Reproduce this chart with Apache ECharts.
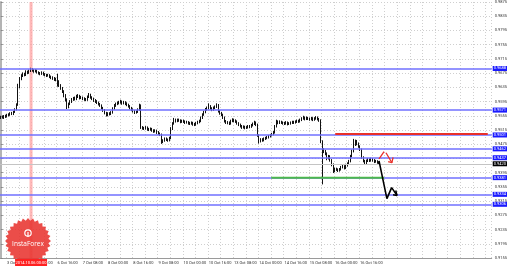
<!DOCTYPE html>
<html><head><meta charset="utf-8">
<script src="https://cdn.jsdelivr.net/npm/echarts@6/dist/echarts.min.js"></script>
<style>html,body{margin:0;padding:0;background:#fff}#c{width:510px;height:268px}</style>
</head><body><div id="c"></div>
<script>
// ---- time axis: H1 bars from 3 Oct 2014 04:00, weekends skipped ----
const startTime = Date.UTC(2014, 9, 3, 4);
const barCount = 312;
const lastLabelIndex = 228;   // last time label shown (16 Oct 16:00)
const monthNames = ['Jan','Feb','Mar','Apr','May','Jun','Jul','Aug','Sep','Oct','Nov','Dec'];

// ---- price axis ticks ----
const yMin = 0.9155, yMax = 0.9875, yStep = 0.004;

// ---- OHLC values (H1) ----
const opens = [
.9550,.9552,.9550,.9554,.9553,.9557,.9558,.9562,.9560,.9566,
.9572,.9586,.9637,.9660,.9668,.9673,.9670,.9679,.9676,.9681,
.9686,.9683,.9680,.9682,.9677,.9675,.9673,.9676,.9671,.9670,
.9668,.9669,.9665,.9662,.9660,.9656,.9658,.9651,.9640,.9632,
.9623,.9612,.9600,.9580,.9588,.9595,.9600,.9604,.9602,.9609,
.9611,.9605,.9606,.9603,.9601,.9600,.9608,.9614,.9607,.9603,
.9598,.9595,.9592,.9588,.9584,.9577,.9570,.9563,.9558,.9561,
.9560,.9564,.9575,.9584,.9588,.9590,.9592,.9595,.9590,.9593,
.9589,.9586,.9582,.9577,.9572,.9568,.9564,.9566,.9572,.9584,
.9522,.9520,.9519,.9522,.9517,.9516,.9518,.9514,.9511,.9513,
.9508,.9505,.9502,.9481,.9485,.9490,.9488,.9486,.9492,.9519,
.9533,.9544,.9540,.9543,.9542,.9538,.9540,.9539,.9536,.9537,
.9534,.9533,.9535,.9531,.9530,.9534,.9537,.9540,.9549,.9558,
.9565,.9572,.9576,.9582,.9576,.9572,.9577,.9580,.9585,.9568,
.9562,.9558,.9550,.9540,.9536,.9535,.9533,.9540,.9544,.9541,
.9539,.9534,.9530,.9526,.9522,.9524,.9521,.9522,.9525,.9524,
.9528,.9532,.9536,.9530,.9500,.9483,.9488,.9486,.9490,.9492,
.9494,.9497,.9500,.9503,.9508,.9525,.9539,.9535,.9538,.9536,
.9534,.9533,.9536,.9532,.9533,.9535,.9537,.9536,.9538,.9540,
.9539,.9543,.9547,.9550,.9546,.9549,.9547,.9545,.9548,.9544,
.9547,.9550,.9546,.9542,.9483,.9460,.9455,.9449,.9435,.9441,
.9430,.9418,.9399,.9405,.9404,.9401,.9404,.9410,.9413,.9408,
.9416,.9420,.9427,.9441,.9455,.9474,.9483,.9476,.9469,.9460,
.9438,.9428,.9421,.9428,.9432,.9429,.9433,.9430,.9426,.9427,.9424];
const highs = [
.9555,.9556,.9557,.9558,.9560,.9562,.9565,.9566,.9569,.9576,
.9590,.9645,.9664,.9672,.9677,.9676,.9683,.9682,.9685,.9690,
.9689,.9686,.9686,.9685,.9680,.9678,.9680,.9679,.9675,.9673,
.9673,.9672,.9668,.9666,.9664,.9662,.9673,.9655,.9644,.9636,
.9627,.9616,.9604,.9592,.9599,.9605,.9608,.9609,.9614,.9616,
.9614,.9611,.9609,.9607,.9605,.9612,.9619,.9617,.9610,.9606,
.9602,.9599,.9595,.9591,.9587,.9580,.9574,.9566,.9565,.9565,
.9568,.9579,.9588,.9592,.9595,.9597,.9600,.9598,.9597,.9596,
.9593,.9589,.9585,.9580,.9576,.9571,.9570,.9576,.9589,.9587,
.9526,.9524,.9526,.9525,.9521,.9522,.9521,.9517,.9517,.9516,
.9512,.9508,.9505,.9489,.9494,.9494,.9491,.9496,.9523,.9537,
.9549,.9547,.9547,.9547,.9545,.9544,.9544,.9542,.9541,.9540,
.9538,.9539,.9538,.9535,.9538,.9541,.9544,.9553,.9562,.9569,
.9577,.9581,.9590,.9585,.9579,.9581,.9584,.9590,.9588,.9571,
.9566,.9561,.9553,.9543,.9540,.9539,.9544,.9548,.9547,.9545,
.9542,.9537,.9533,.9529,.9528,.9527,.9526,.9529,.9529,.9532,
.9536,.9541,.9539,.9533,.9503,.9492,.9492,.9494,.9496,.9498,
.9501,.9504,.9507,.9512,.9529,.9544,.9542,.9542,.9541,.9539,
.9538,.9540,.9539,.9537,.9539,.9541,.9541,.9542,.9544,.9544,
.9547,.9551,.9555,.9553,.9553,.9552,.9550,.9552,.9551,.9551,
.9554,.9553,.9549,.9545,.9486,.9464,.9459,.9452,.9445,.9444,
.9433,.9421,.9409,.9409,.9407,.9408,.9414,.9417,.9416,.9420,
.9424,.9431,.9445,.9460,.9490,.9488,.9487,.9480,.9472,.9463,
.9441,.9431,.9432,.9436,.9435,.9437,.9436,.9433,.9431,.9430,.9427];
const lows = [
.9546,.9547,.9546,.9549,.9550,.9553,.9555,.9557,.9557,.9563,
.9570,.9583,.9632,.9655,.9664,.9666,.9667,.9672,.9673,.9678,
.9679,.9676,.9677,.9674,.9671,.9669,.9670,.9668,.9666,.9664,
.9665,.9661,.9658,.9656,.9653,.9652,.9637,.9636,.9628,.9619,
.9607,.9595,.9574,.9576,.9585,.9591,.9597,.9598,.9599,.9605,
.9601,.9602,.9599,.9597,.9596,.9597,.9605,.9603,.9599,.9594,
.9591,.9588,.9584,.9580,.9573,.9566,.9559,.9553,.9554,.9556,
.9557,.9561,.9572,.9580,.9585,.9587,.9589,.9586,.9587,.9585,
.9582,.9578,.9573,.9568,.9564,.9560,.9561,.9563,.9569,.9518,
.9516,.9515,.9516,.9513,.9512,.9513,.9510,.9507,.9508,.9504,
.9501,.9498,.9476,.9478,.9482,.9484,.9482,.9483,.9489,.9515,
.9530,.9536,.9537,.9538,.9534,.9535,.9535,.9532,.9533,.9530,
.9529,.9530,.9527,.9526,.9527,.9531,.9534,.9537,.9546,.9555,
.9562,.9569,.9573,.9572,.9568,.9569,.9574,.9577,.9564,.9558,
.9554,.9546,.9536,.9532,.9531,.9529,.9530,.9537,.9537,.9535,
.9530,.9526,.9522,.9518,.9519,.9517,.9518,.9519,.9520,.9521,
.9525,.9529,.9526,.9496,.9477,.9480,.9482,.9483,.9487,.9489,
.9491,.9494,.9497,.9500,.9505,.9522,.9531,.9532,.9532,.9530,
.9529,.9530,.9528,.9529,.9530,.9532,.9532,.9533,.9535,.9535,
.9536,.9540,.9544,.9542,.9543,.9543,.9541,.9542,.9540,.9541,
.9544,.9542,.9538,.9478,.9362,.9450,.9444,.9430,.9432,.9426,
.9413,.9394,.9396,.9400,.9397,.9398,.9401,.9407,.9404,.9405,
.9412,.9417,.9424,.9438,.9452,.9470,.9472,.9465,.9456,.9434,
.9424,.9417,.9418,.9425,.9425,.9426,.9426,.9422,.9423,.9420,.9417];
const closes = [
.9552,.9550,.9554,.9553,.9557,.9558,.9562,.9560,.9566,.9572,
.9586,.9637,.9660,.9668,.9673,.9670,.9679,.9676,.9681,.9686,
.9683,.9680,.9682,.9677,.9675,.9673,.9676,.9671,.9670,.9668,
.9669,.9665,.9662,.9660,.9656,.9658,.9651,.9640,.9632,.9623,
.9612,.9600,.9580,.9588,.9595,.9600,.9604,.9602,.9609,.9611,
.9605,.9606,.9603,.9601,.9600,.9608,.9614,.9607,.9603,.9598,
.9595,.9592,.9588,.9584,.9577,.9570,.9563,.9558,.9561,.9560,
.9564,.9575,.9584,.9588,.9590,.9592,.9595,.9590,.9593,.9589,
.9586,.9582,.9577,.9572,.9568,.9564,.9566,.9572,.9584,.9522,
.9520,.9519,.9522,.9517,.9516,.9518,.9514,.9511,.9513,.9508,
.9505,.9502,.9481,.9485,.9490,.9488,.9486,.9492,.9519,.9533,
.9544,.9540,.9543,.9542,.9538,.9540,.9539,.9536,.9537,.9534,
.9533,.9535,.9531,.9530,.9534,.9537,.9540,.9549,.9558,.9565,
.9572,.9576,.9582,.9576,.9572,.9577,.9580,.9585,.9568,.9562,
.9558,.9550,.9540,.9536,.9535,.9533,.9540,.9544,.9541,.9539,
.9534,.9530,.9526,.9522,.9524,.9521,.9522,.9525,.9524,.9528,
.9532,.9536,.9530,.9500,.9483,.9488,.9486,.9490,.9492,.9494,
.9497,.9500,.9503,.9508,.9525,.9539,.9535,.9538,.9536,.9534,
.9533,.9536,.9532,.9533,.9535,.9537,.9536,.9538,.9540,.9539,
.9543,.9547,.9550,.9546,.9549,.9547,.9545,.9548,.9544,.9547,
.9550,.9546,.9542,.9483,.9460,.9455,.9449,.9435,.9441,.9430,
.9418,.9399,.9405,.9404,.9401,.9404,.9410,.9413,.9408,.9416,
.9420,.9427,.9441,.9455,.9474,.9483,.9476,.9469,.9460,.9438,
.9428,.9421,.9428,.9432,.9429,.9433,.9430,.9426,.9427,.9424,.9421];

// ---- horizontal levels ----
const blueLevels = [0.9688, 0.9571, 0.9501, 0.9462, 0.9437, 0.9381, 0.9334, 0.9306];
const currentPrice = 0.9420;
const redLevel = [[212.2, 0.9504], [309, 0.9504]];
const greenLevel = [[171.6, 0.9381], [243.2, 0.9381]];
const markerBarIndex = 19.2;               // vertical marker (bar index)
const markerLabel = '2014.10.06 00:00';
// ---- forecast arrows (bar index, price) ----
const blackArrow = [[240, 0.9428], [245, 0.9322], [248, 0.9353], [251.4, 0.9331]];
const blackArrowHead = [[248.9, 0.9333], [251.4, 0.9331], [250.6, 0.9345]];
const redArrowUp = [[240, 0.9434], [243.2, 0.9454]];
const redArrowDown = [[244.4, 0.9451], [248.2, 0.9423]];
const redArrowHead = [[245.8, 0.9426], [248.2, 0.9423], [248.9, 0.9438]];

function pad(n){ return (n < 10 ? '0' : '') + n; }
function buildCategories(){
  const out = [];
  let t = startTime;
  while (out.length < barCount) {
    const d = new Date(t);
    const wd = d.getUTCDay();
    if (wd !== 0 && wd !== 6) out.push(d.getUTCDate() + ' ' + monthNames[d.getUTCMonth()] + ' ' + pad(d.getUTCHours()) + ':00');
    t += 3600000;
  }
  return out;
}
const categories = buildCategories();
const candleData = opens.map((o, i) => [o, closes[i], lows[i], highs[i]]);

const FONT = 'Roboto';
const chart = echarts.init(document.getElementById('c'), null, {renderer: 'canvas'});

function seg(data, color, width, z){
  return {type: 'line', xAxisIndex: 1, data: data, symbol: 'none', silent: true,
    lineStyle: {color: color, width: width}, z: z || 5, animation: false};
}

chart.setOption({
  animation: false,
  backgroundColor: '#ffffff',
  grid: {left: 0, right: 17, top: 0, bottom: 10},
  xAxis: [{
    type: 'category', data: categories, boundaryGap: true,
    axisLine: {lineStyle: {color: '#9a9a9a', width: 1}},
    axisTick: {show: false},
    axisLabel: {interval: (i) => i >= 4 && i <= lastLabelIndex && (i - 4) % 16 === 0, align: 'left', fontSize: 4,
      fontFamily: FONT, color: '#333', margin: 3},
    splitLine: {show: true, interval: (i) => i % 8 === 4, lineStyle: {color: '#cfcfcf', type: [1, 2], width: 1}}
  }, {
    type: 'value', min: -0.5, max: barCount - 0.5, show: false
  }],
  yAxis: {
    type: 'value', position: 'right', min: yMin, max: yMax, interval: yStep, scale: true,
    axisLine: {show: true, lineStyle: {color: '#b4b4b4', width: 2}},
    axisTick: {show: true, length: 2, lineStyle: {color: '#888'}},
    axisLabel: {fontSize: 4, fontFamily: FONT, color: '#333', margin: 3, formatter: v => v.toFixed(4)},
    splitLine: {show: true, lineStyle: {color: '#cfcfcf', type: [1, 2], width: 1}}
  },
  series: [
    seg([[markerBarIndex, yMin], [markerBarIndex, yMax]], 'rgba(255,160,160,0.75)', 3, 1),
    {
      type: 'candlestick', xAxisIndex: 0, data: candleData, barWidth: 1, z: 3,
      itemStyle: {color: '#ffffff', color0: '#111', borderColor: '#111', borderColor0: '#111', borderWidth: 1},
      markLine: {
        silent: true, symbol: 'none', animation: false, precision: 4,
        label: {show: true, position: 'end', distance: 1, fontSize: 4, fontFamily: FONT,
          color: '#fff', backgroundColor: '#1a1aff', padding: [1, 1, 0, 1],
          formatter: p => Number(p.value).toFixed(4)},
        data: blueLevels.map(v => ({yAxis: v, lineStyle: {color: '#7070ff', width: 1.5, type: 'solid'}}))
          .concat([{yAxis: currentPrice, lineStyle: {color: '#c4c4c4', width: 1, type: 'solid'},
            label: {backgroundColor: '#000', color: '#fff'}}])
      }
    },
    seg(redLevel, '#e8302a', 2),
    seg(greenLevel, '#4cb84c', 2),
    seg(redArrowUp, '#e8302a', 1.3, 6),
    seg(redArrowDown, '#e8302a', 1.3, 6),
    seg(redArrowHead, '#e8302a', 1.3, 6),
    seg(blackArrow, '#000', 1.6, 6),
    seg(blackArrowHead, '#000', 1.6, 6)
  ]
});

// logo + marker date box
const mx = chart.convertToPixel({xAxisIndex: 1}, markerBarIndex);
const star = [];
const teeth = 28, cx = 28, cy = 241, ro = 23, ri = 20.5;
for (let k = 0; k < teeth * 2; k++) {
  const a = Math.PI * k / teeth;
  const r = k % 2 === 0 ? ro : ri;
  star.push([cx + r * Math.cos(a), cy + r * Math.sin(a)]);
}
chart.setOption({
  graphic: [
    {type: 'polygon', shape: {points: star}, style: {fill: 'rgba(232,52,48,0.88)'}, z: 50},
    {type: 'circle', shape: {cx: cx, cy: cy - 8, r: 3.2}, style: {fill: 'none', stroke: '#fff', lineWidth: 1.2}, z: 51},
    {type: 'rect', shape: {x: cx - 0.6, y: cy - 9, width: 1.2, height: 5}, style: {fill: '#fff'}, z: 51},
    {type: 'text', x: cx, y: cy + 3, style: {text: 'InstaForex', fill: '#fff', font: '6.5px "Open Sans"', textAlign: 'center', textVerticalAlign: 'middle'}, z: 51},
    {type: 'rect', shape: {x: mx - 16, y: 259, width: 32, height: 7}, style: {fill: '#ff2020'}, z: 60},
    {type: 'text', x: mx, y: 262.8, style: {text: markerLabel, fill: '#fff', font: '4px Roboto', textAlign: 'center', textVerticalAlign: 'middle'}, z: 61}
  ]
});
</script></body></html>
